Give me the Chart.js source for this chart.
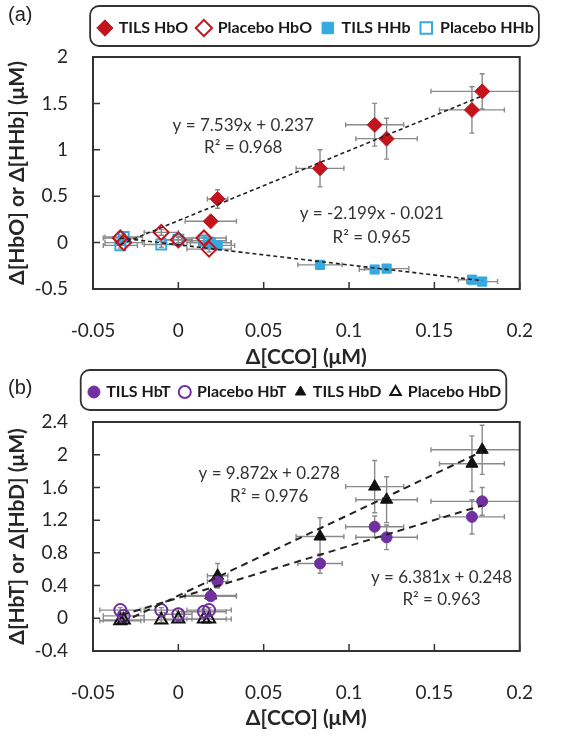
<!DOCTYPE html>
<html><head><meta charset="utf-8">
<script src="https://cdn.jsdelivr.net/npm/chart.js@4.4.0/dist/chart.umd.min.js"></script>
<style>
html,body{margin:0;padding:0;background:#fff;}
#wrap{position:relative;width:563px;height:736px;overflow:hidden;}
.pane{position:absolute;left:0;width:563px;height:368px;}
</style></head><body>
<div id="wrap">
<div class="pane" style="top:0"><canvas id="ca"></canvas></div>
<div class="pane" style="top:368px"><canvas id="cb"></canvas></div>
</div>
<script>
// ---------- data ----------
const TILS_CCO        = [0.019, 0.023, 0.083, 0.115, 0.122, 0.172, 0.178];
const PLACEBO_CCO     = [-0.034, -0.032, -0.010, 0.000, 0.015, 0.018];

// panel (a)
const TILS_HBO        = [0.23, 0.47, 0.80, 1.27, 1.12, 1.43, 1.63];
const TILS_HBO_XERR   = [0.015, 0.006, 0.014, 0.017, 0.018, 0.019, 0.030];
const TILS_HBO_YERR   = [0.04, 0.10, 0.20, 0.23, 0.22, 0.25, 0.19];
const PLACEBO_HBO     = [0.05, 0.00, 0.11, 0.03, 0.05, -0.07];
const PLACEBO_HBO_XERR= [0.010, 0.011, 0.010, 0.008, 0.013, 0.013];
const PLACEBO_HBO_YERR= [0.03, 0.03, 0.03, 0.03, 0.03, 0.03];
const TILS_HHB        = [0.00, -0.03, -0.24, -0.29, -0.28, -0.40, -0.42];
const TILS_HHB_XERR   = [0.012, 0.010, 0.013, 0.009, 0.013, 0.008, 0.009];
const TILS_HHB_YERR   = [0.02, 0.02, 0.03, 0.03, 0.03, 0.04, 0.04];
const PLACEBO_HHB     = [-0.03, 0.06, -0.02, 0.03, 0.02, 0.00];
const PLACEBO_HHB_XERR= [0.010, 0.011, 0.010, 0.008, 0.013, 0.013];
const PLACEBO_HHB_YERR= [0.03, 0.03, 0.03, 0.03, 0.03, 0.03];
const FIT_X_A         = [-0.034, 0.178];
const FIT_HBO         = [-0.02, 1.58];
const FIT_HHB         = [0.05, -0.41];

// panel (b)
const TILS_HBT        = [0.27, 0.45, 0.67, 1.12, 0.99, 1.24, 1.43];
const TILS_HBT_XERR   = [0.015, 0.006, 0.013, 0.017, 0.018, 0.019, 0.030];
const TILS_HBT_YERR   = [0.05, 0.07, 0.12, 0.13, 0.15, 0.21, 0.17];
const PLACEBO_HBT     = [0.10, 0.03, 0.10, 0.05, 0.08, 0.10];
const PLACEBO_HBT_XERR= [0.012, 0.012, 0.010, 0.008, 0.013, 0.013];
const PLACEBO_HBT_YERR= [0.03, 0.03, 0.03, 0.03, 0.03, 0.03];
const TILS_HBD        = [0.28, 0.52, 1.00, 1.61, 1.45, 1.89, 2.06];
const TILS_HBD_XERR   = [0.015, 0.006, 0.014, 0.017, 0.018, 0.019, 0.030];
const TILS_HBD_YERR   = [0.05, 0.15, 0.23, 0.32, 0.28, 0.34, 0.30];
const PLACEBO_HBD     = [-0.03, -0.02, -0.02, -0.01, -0.01, -0.01];
const PLACEBO_HBD_XERR= [0.012, 0.012, 0.010, 0.008, 0.013, 0.013];
const PLACEBO_HBD_YERR= [0.03, 0.03, 0.03, 0.03, 0.03, 0.03];
const FIT_X_B         = [-0.033, 0.178];
const FIT_HBD         = [-0.05, 2.04];
const FIT_HBT         = [0.04, 1.38];

// labels / annotations
const X_TITLE   = 'Δ[CCO] (μM)';
const Y_TITLE_A = 'Δ[HbO] or Δ[HHb] (μM)';
const Y_TITLE_B = 'Δ[HbT] or Δ[HbD] (μM)';
const ANNOT_A = [
  {text: 'y = 7.539x + 0.237', x: 0.0380, y: 1.264},
  {text: 'R² = 0.968',         x: 0.0380, y: 1.026},
  {text: 'y = -2.199x - 0.021', x: 0.1133, y: 0.312},
  {text: 'R² = 0.965',          x: 0.1133, y: 0.052}
];
const ANNOT_B = [
  {text: 'y = 9.872x + 0.278', x: 0.0532, y: 1.776},
  {text: 'R² = 0.976',         x: 0.0532, y: 1.483},
  {text: 'y = 6.381x + 0.248', x: 0.1542, y: 0.493},
  {text: 'R² = 0.963',         x: 0.1542, y: 0.224}
];

// ---------- helpers ----------
const pts = (xs, ys) => xs.map((x, i) => ({x: x, y: ys[i]}));
const fmt = v => String(Math.round(v * 1000) / 1000);
const RED = '#C3141E', BLUE = '#36A9E1', PURPLE = '#7030A0', BLACK = '#111111';
const TXT = '#262626';
const FONT = 'Lato';

function roundRect(ctx, x, y, w, h, r) {
  ctx.beginPath();
  ctx.moveTo(x + r, y);
  ctx.lineTo(x + w - r, y); ctx.arcTo(x + w, y, x + w, y + r, r);
  ctx.lineTo(x + w, y + h - r); ctx.arcTo(x + w, y + h, x + w - r, y + h, r);
  ctx.lineTo(x + r, y + h); ctx.arcTo(x, y + h, x, y + h - r, r);
  ctx.lineTo(x, y + r); ctx.arcTo(x, y, x + r, y, r);
  ctx.closePath();
}

const framePlugin = {
  id: 'frame',
  beforeLayout(chart) {
    const lg = chart.legend;
    if (lg && !lg.__patched) {
      const f = lg.fit;
      lg.fit = function () { f.call(this); this.height = chart.options.plugins.frame.legendH; };
      lg.__patched = true;
    }
  },
  afterLayout(chart) {
    const lg = chart.legend;
    const dx = chart.options.plugins.frame.legendDx || 0;
    if (lg) { lg.left += dx; lg.right += dx; }
  },
  beforeDatasetsDraw(chart) {
    const {ctx, chartArea: a, scales: {x: xs, y: ys}} = chart;
    ctx.save();
    ctx.beginPath(); ctx.rect(a.left, a.top, a.right - a.left, a.bottom - a.top); ctx.clip();
    ctx.strokeStyle = '#8a8a8a'; ctx.lineWidth = 1.4;
    const cap = 2.5;
    chart.data.datasets.forEach((ds, i) => {
      if (!ds.errX && !ds.errY) return;
      ds.data.forEach((p, j) => {
        const px = xs.getPixelForValue(p.x), py = ys.getPixelForValue(p.y);
        if (ds.errX) {
          const l = xs.getPixelForValue(p.x - ds.errX[j]), r = xs.getPixelForValue(p.x + ds.errX[j]);
          ctx.beginPath();
          ctx.moveTo(l, py); ctx.lineTo(r, py);
          ctx.moveTo(l, py - cap); ctx.lineTo(l, py + cap);
          ctx.moveTo(r, py - cap); ctx.lineTo(r, py + cap);
          ctx.stroke();
        }
        if (ds.errY) {
          const t = ys.getPixelForValue(p.y + ds.errY[j]), b = ys.getPixelForValue(p.y - ds.errY[j]);
          ctx.beginPath();
          ctx.moveTo(px, t); ctx.lineTo(px, b);
          ctx.moveTo(px - cap, t); ctx.lineTo(px + cap, t);
          ctx.moveTo(px - cap, b); ctx.lineTo(px + cap, b);
          ctx.stroke();
        }
      });
    });
    ctx.restore();
  },
  afterDatasetsDraw(chart) {
    const {ctx, scales: {x: xs, y: ys}} = chart;
    const o = chart.options.plugins.frame;
    ctx.save();
    ctx.fillStyle = '#333';
    ctx.font = '17px ' + FONT;
    ctx.textAlign = 'center'; ctx.textBaseline = 'middle';
    (o.annotations || []).forEach(an => {
      ctx.fillText(an.text, xs.getPixelForValue(an.x), ys.getPixelForValue(an.y));
    });
    ctx.restore();
  },
  afterDraw(chart) {
    const {ctx, chartArea: a, scales: {x: xs, y: ys}} = chart;
    const o = chart.options.plugins.frame;
    ctx.save();
    // plot frame
    ctx.strokeStyle = '#333'; ctx.lineWidth = 2;
    ctx.strokeRect(a.left, a.top, a.right - a.left, a.bottom - a.top);
    // inward tick marks
    ctx.lineWidth = 1.5;
    ctx.beginPath();
    xs.ticks.forEach((t, i) => {
      const px = xs.getPixelForTick(i);
      ctx.moveTo(px, a.bottom); ctx.lineTo(px, a.bottom - 7);
    });
    ys.ticks.forEach((t, i) => {
      const py = ys.getPixelForTick(i);
      ctx.moveTo(a.left, py); ctx.lineTo(a.left + 7, py);
    });
    ctx.stroke();
    // legend box
    const lg = chart.legend;
    if (lg && lg.legendHitBoxes && lg.legendHitBoxes.length) {
      const hb = lg.legendHitBoxes;
      let l = Infinity, r = -Infinity, cy = 0;
      hb.forEach(h => { l = Math.min(l, h.left); r = Math.max(r, h.left + h.width); cy = h.top + h.height / 2; });
      ctx.strokeStyle = '#333'; ctx.lineWidth = 1.8;
      roundRect(ctx, l - 9, cy - 22, (r + 5) - (l - 9), 40, 9);
      ctx.stroke();
    }
    // panel label
    ctx.fillStyle = '#222';
    ctx.font = '20px "Liberation Sans"';
    ctx.textAlign = 'left'; ctx.textBaseline = 'middle';
    ctx.fillText(o.panel, 8, o.panelY);
    ctx.restore();
  }
};

function scatterDs(label, xs, ys, ex, ey, style, radius, color, hollow) {
  return {
    label: label,
    data: pts(xs, ys),
    errX: ex, errY: ey,
    pointStyle: style,
    pointRadius: radius,
    pointHoverRadius: radius,
    backgroundColor: hollow ? 'rgba(255,255,255,0)' : color,
    borderColor: color,
    borderWidth: hollow ? 2 : 1,
    showLine: false
  };
}
function fitDs(xs, ys, dash, width) {
  return {
    label: 'fit', isFit: true, type: 'line',
    data: pts(xs, ys),
    showLine: true, pointRadius: 0, borderColor: '#222',
    borderWidth: width, borderDash: dash, fill: false, order: -1
  };
}

function makeOptions(p) {
  return {
    responsive: true, maintainAspectRatio: false, animation: false,
    layout: {padding: {top: p.padTop, right: p.padRight, bottom: 0, left: 0}},
    plugins: {
      tooltip: {enabled: false},
      legend: {
        display: true, position: 'top', align: 'center', fullSize: true,
        labels: {
          usePointStyle: true, boxHeight: p.boxH, boxWidth: p.boxH, padding: 10,
          color: '#1a1a1a', font: {family: FONT, size: 16, weight: 'bold'},
          filter: (item, data) => !data.datasets[item.datasetIndex].isFit
        }
      },
      frame: {legendH: p.legendH, legendDx: p.legendDx, annotations: p.annot, panel: p.panel, panelY: p.panelY}
    },
    scales: {
      x: {
        type: 'linear', min: -0.05, max: 0.2,
        ticks: {stepSize: 0.05, autoSkip: false, maxRotation: 0, padding: 30,
                font: {family: FONT, size: 19}, color: TXT, callback: v => fmt(v)},
        grid: {display: false, drawTicks: false}, border: {display: false},
        title: {display: true, text: X_TITLE, color: TXT,
                font: {family: FONT, size: 21, weight: 'bold', lineHeight: 1},
                padding: {top: 0, bottom: p.xTitlePad}},
        afterFit: s => { s.height = p.xH; }
      },
      y: {
        type: 'linear', min: p.yMin, max: p.yMax,
        ticks: {stepSize: p.yStep, autoSkip: false, padding: 25,
                font: {family: FONT, size: 19}, color: TXT, callback: v => fmt(v)},
        grid: {display: false, drawTicks: false}, border: {display: false},
        title: {display: true, text: p.yTitle, color: TXT,
                font: {family: FONT, size: 21, weight: 'bold', lineHeight: 1},
                padding: {top: 6.5, bottom: 0}},
        afterFit: s => { s.width = 93; }
      }
    }
  };
}

new Chart(document.getElementById('ca'), {
  type: 'scatter',
  data: {datasets: [
    scatterDs('TILS HbO', TILS_CCO, TILS_HBO, TILS_HBO_XERR, TILS_HBO_YERR, 'rectRot', 7.5, RED, false),
    scatterDs('Placebo HbO', PLACEBO_CCO, PLACEBO_HBO, PLACEBO_HBO_XERR, PLACEBO_HBO_YERR, 'rectRot', 7.5, RED, true),
    scatterDs('TILS HHb', TILS_CCO, TILS_HHB, TILS_HHB_XERR, TILS_HHB_YERR, 'rect', 6.5, BLUE, false),
    scatterDs('Placebo HHb', PLACEBO_CCO, PLACEBO_HHB, PLACEBO_HHB_XERR, PLACEBO_HHB_YERR, 'rect', 7, BLUE, true),
    fitDs(FIT_X_A, FIT_HBO, [4, 3], 1.6),
    fitDs(FIT_X_A, FIT_HHB, [4, 3], 1.6)
  ]},
  options: makeOptions({padTop: 10, padRight: 26, legendH: 47, legendDx: 48, boxH: 11.5,
    annot: ANNOT_A, panel: '(a)', panelY: 15, xH: 79, xTitlePad: 0,
    yMin: -0.5, yMax: 2, yStep: 0.5, yTitle: Y_TITLE_A}),
  plugins: [framePlugin]
});

new Chart(document.getElementById('cb'), {
  type: 'scatter',
  data: {datasets: [
    scatterDs('TILS HbT', TILS_CCO, TILS_HBT, TILS_HBT_XERR, TILS_HBT_YERR, 'circle', 5.5, PURPLE, false),
    scatterDs('Placebo HbT', PLACEBO_CCO, PLACEBO_HBT, PLACEBO_HBT_XERR, PLACEBO_HBT_YERR, 'circle', 6, PURPLE, true),
    scatterDs('TILS HbD', TILS_CCO, TILS_HBD, TILS_HBD_XERR, TILS_HBD_YERR, 'triangle', 7, BLACK, false),
    scatterDs('Placebo HbD', PLACEBO_CCO, PLACEBO_HBD, PLACEBO_HBD_XERR, PLACEBO_HBD_YERR, 'triangle', 7, BLACK, true),
    fitDs(FIT_X_B, FIT_HBD, [7, 5], 2),
    fitDs(FIT_X_B, FIT_HBT, [7, 5], 2)
  ]},
  options: makeOptions({padTop: 6, padRight: 22, legendH: 48, legendDx: 25, boxH: 8.5,
    annot: ANNOT_B, panel: '(b)', panelY: 20, xH: 85, xTitlePad: 7.5,
    yMin: -0.4, yMax: 2.4, yStep: 0.4, yTitle: Y_TITLE_B}),
  plugins: [framePlugin]
});
</script>
</body></html>
